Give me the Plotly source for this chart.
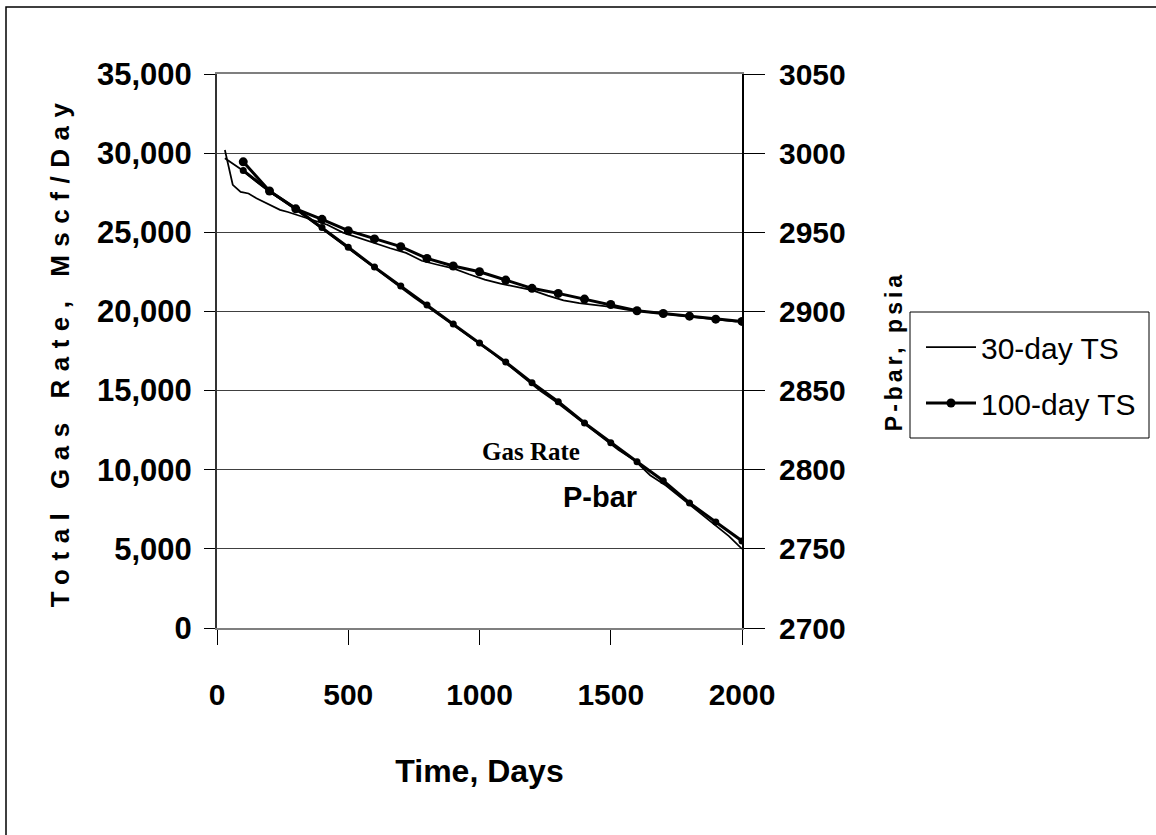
import plotly.graph_objects as go

# ---- data -------------------------------------------------------------
# 100-day time-step run: one point every 100 days
days_100 = [100, 200, 300, 400, 500, 600, 700, 800, 900, 1000,
            1100, 1200, 1300, 1400, 1500, 1600, 1700, 1800, 1900, 2000]
gas_rate_100 = [29450, 27610, 26480, 25820, 25100, 24580, 24090, 23350, 22870, 22510,
                21980, 21460, 21140, 20780, 20440, 20040, 19870, 19700, 19510, 19370]
pbar_100 = [2989, 2976, 2965, 2953, 2940.5, 2928, 2916, 2904, 2892, 2880,
            2868, 2855, 2843, 2829.5, 2817, 2805, 2793, 2779, 2767, 2755]

# 30-day time-step run
days_30_gas = [30, 60, 90, 120, 150, 180, 210, 240, 270, 300,
               360, 420, 480, 540, 600, 660, 720, 780, 840, 900,
               960, 1020, 1080, 1140, 1200, 1260, 1320, 1380, 1440, 1500,
               1560, 1620, 1680, 1740, 1800, 1860, 1920, 1980]
gas_rate_30 = [30200, 28000, 27550, 27450, 27150, 26900, 26700, 26420, 26280, 26120,
               25800, 25480, 24980, 24650, 24280, 23990, 23700, 23200, 22950, 22720,
               22350, 22010, 21760, 21560, 21350, 21000, 20700, 20520, 20420, 20290,
               20120, 19990, 19900, 19780, 19680, 19560, 19470, 19360]

days_30_pbar = [30, 90, 150, 210, 270, 330, 390, 450, 510, 570,
                630, 690, 750, 810, 870, 930, 990, 1050, 1110, 1170,
                1230, 1290, 1350, 1410, 1470, 1530, 1590, 1650, 1710, 1770,
                1830, 1890, 1950, 2000]
pbar_30 = [2996.8, 2990, 2982, 2974.5, 2968, 2961, 2953.5, 2946, 2938.5, 2931,
           2923.5, 2916, 2909, 2902, 2895, 2888, 2880.5, 2873.5, 2866, 2858,
           2850, 2843, 2835.5, 2827.5, 2820, 2812.5, 2806, 2796.5, 2790, 2782,
           2774.5, 2766.5, 2758, 2750]

series_names = ["30-day TS", "100-day TS"]
x_ticks = [0, 500, 1000, 1500, 2000]

# ---- styling ----------------------------------------------------------
BOLD = "Liberation Sans, Arial, sans-serif"
SANS = "Liberation Sans, Arial, sans-serif"
SERIF = "Liberation Serif, Times New Roman, serif"

fig = go.Figure()

# 30-day run (thin lines)
fig.add_trace(go.Scatter(
    x=days_30_gas, y=gas_rate_30, mode="lines", name=series_names[0],
    legendgroup="ts30", showlegend=True,
    line=dict(color="black", width=1.75),
))
fig.add_trace(go.Scatter(
    x=days_30_pbar, y=pbar_30, yaxis="y2", mode="lines", name=series_names[0],
    legendgroup="ts30", showlegend=False,
    line=dict(color="black", width=1.75),
))
# 100-day run (thick lines with dots)
fig.add_trace(go.Scatter(
    x=days_100, y=gas_rate_100, mode="lines+markers", name=series_names[1],
    legendgroup="ts100", showlegend=True,
    line=dict(color="black", width=3), marker=dict(color="black", size=9),
))
fig.add_trace(go.Scatter(
    x=days_100, y=pbar_100, yaxis="y2", mode="lines+markers", name=series_names[1],
    legendgroup="ts100", showlegend=False,
    line=dict(color="black", width=3), marker=dict(color="black", size=7),
))

W, H = 1156, 835
L, R, T, B = 217, 414, 74, 207
pw, ph = W - L - R, H - T - B


def px_x(px):
    return (px - L) / pw


def px_y(py):
    return (H - B - py) / ph


fig.update_layout(
    width=W, height=H,
    margin=dict(l=L, r=R, t=T, b=B, pad=0),
    paper_bgcolor="white", plot_bgcolor="white",
    showlegend=True,
    legend=dict(
        x=px_x(921), y=px_y(321), xanchor="left", yanchor="top",
        borderwidth=0, bgcolor="rgba(0,0,0,0)",
        font=dict(family=SANS, size=30, color="black"),
        traceorder="grouped", tracegroupgap=14, itemwidth=50,
    ),
    xaxis=dict(
        range=[0, 2000], tickvals=x_ticks, tickformat="d",
        showgrid=False, zeroline=False,
        showline=True, linecolor="#7f7f7f", linewidth=2, mirror=True,
        ticks="outside", ticklen=15, tickwidth=1, tickcolor="black",
        ticklabelstandoff=24,
        tickfont=dict(family=BOLD, size=30, color="black", weight="bold"),
        title=dict(text="<b>Time, Days</b>", standoff=50,
                   font=dict(family=BOLD, size=32, color="black")),
    ),
    yaxis=dict(
        range=[0, 35000], dtick=5000, tickformat=",d",
        showgrid=True, gridcolor="#404040", gridwidth=1, zeroline=False,
        showline=True, linecolor="#333333", linewidth=2,
        ticks="outside", ticklen=11, tickwidth=1, tickcolor="black",
        ticklabelstandoff=6,
        tickfont=dict(family=BOLD, size=31, color="black", weight="bold"),
        title=dict(text="<b>Total Gas Rate, Mscf/Day</b>", standoff=20,
                   font=dict(family=SANS, size=26, color="black")),
    ),
    yaxis2=dict(
        range=[2700, 3050], dtick=50, tickformat="d",
        overlaying="y", side="right",
        showgrid=False, zeroline=False,
        showline=True, linecolor="black", linewidth=2,
        ticks="outside", ticklen=21, tickwidth=1, tickcolor="black",
        ticklabelstandoff=8,
        tickfont=dict(family=BOLD, size=30, color="black", weight="bold"),
        title=dict(text="<b>P-bar, psia</b>", standoff=41,
                   font=dict(family=SANS, size=23, color="black")),
    ),
    annotations=[
        dict(x=1198, y=11150, xref="x", yref="y", text="<b>Gas Rate</b>",
             showarrow=False, font=dict(family=SERIF, size=25, color="black")),
        dict(x=1459, y=8245, xref="x", yref="y", text="<b>P-bar</b>",
             showarrow=False, font=dict(family=BOLD, size=29, color="black")),
    ],
    shapes=[
        # outer chart frame
        dict(type="rect", xref="paper", yref="paper",
             x0=px_x(6), x1=px_x(W + 40), y0=px_y(H + 40), y1=px_y(7),
             line=dict(color="black", width=1.5), fillcolor="rgba(0,0,0,0)",
             layer="below"),
        # legend box
        dict(type="rect", xref="paper", yref="paper",
             x0=px_x(910), x1=px_x(1149), y0=px_y(438), y1=px_y(312),
             line=dict(color="black", width=1), fillcolor="rgba(0,0,0,0)"),
    ],
)

spacing_js = """
var gd = document.getElementById('{plot_id}');
function spaceTitles() {
  gd.querySelectorAll('.ytitle').forEach(function (e) { e.style.letterSpacing = '8.5px'; });
  gd.querySelectorAll('.y2title').forEach(function (e) { e.style.letterSpacing = '4px'; });
}
spaceTitles();
gd.on('plotly_afterplot', spaceTitles);
"""

fig.write_html("out.html", post_script=spacing_js)
